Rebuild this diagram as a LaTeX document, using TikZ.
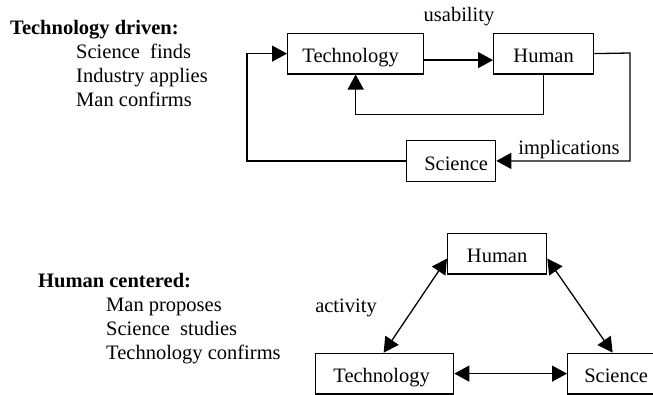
\documentclass[tikz,border=0pt]{standalone}
\usepackage{fontspec}
\setmainfont{Liberation Serif}
\usetikzlibrary{arrows.meta}
\begin{document}
\begin{tikzpicture}[x=1pt,y=-1pt,
  font=\fontsize{20.5}{24}\selectfont,
  box/.style={draw, line width=1.3pt, inner xsep=0pt, inner ysep=0pt,
    text height=29.5pt, text depth=11pt, anchor=north west},
  conn/.style={line width=1.3pt},
  arr/.style={conn, -{Triangle[length=15pt,width=16pt]}},
  darr/.style={conn, {Triangle[length=15pt,width=16pt]}-{Triangle[length=15pt,width=16pt]}},
  lbl/.style={anchor=base, inner sep=0pt},
  txt/.style={anchor=base west, inner sep=0pt}]
\useasboundingbox (0,0) rectangle (653,394);

% left texts
\node[txt] (tdh) at (10,34) {\bfseries Technology driven:};
\node[txt] (td1) at (76,58) {Science\ \ finds};
\node[txt] (td2) at (76,82) {Industry applies};
\node[txt] (td3) at (76,106) {Man confirms};

\node[txt] (hch) at (38,287) {\bfseries Human centered:};
\node[txt] (hc1) at (106,311) {Man proposes};
\node[txt] (hc2) at (106,335) {Science\ \ studies};
\node[txt] (hc3) at (106,359) {Technology confirms};

% top diagram
\node[box, minimum width=136pt] (ttech) at (287,32.7) {\hspace*{-10pt}Technology};
\node[box, minimum width=100pt] (thum) at (493,32.7) {Human};
\node[box, minimum width=89pt] (tsci) at (406,140) {\hspace*{10pt}Science};

\node[lbl] (usab) at (459,21.7) {usability};
\node[lbl] (impl) at (569,154) {implications};

\draw[arr] ([yshift=-6.5pt]ttech.east) -- ([yshift=-6.5pt]thum.west);
\draw[arr] (thum.south) -- ++(0,40) -| (ttech.south);
\coordinate (tr) at (630,53);
\draw[arr] (thum.east) -- (tr) |- (tsci.east);
\coordinate (tl) at (247,160);
\draw[arr] (tsci.west) -| (tl |- ttech.west) -- (ttech.west);

% bottom diagram
\node[box, minimum width=99pt] (bhum) at (447,232.7) {Human};
\node[box, minimum width=138pt] (btech) at (315,352.7) {\hspace*{-6pt}Technology};
\node[box, minimum width=93pt] (bsci) at (567,352.7) {\hspace*{4pt}Science};

\node[lbl] (act) at (346,312) {activity};

\draw[darr] ([xshift=-1pt]btech.north) -- ([yshift=-5pt]bhum.west);
\draw[darr] ([yshift=-5pt]bhum.east) -- ([xshift=-1.5pt]bsci.north);
\draw[darr] (btech.east) -- (bsci.west);
\end{tikzpicture}
\end{document}
